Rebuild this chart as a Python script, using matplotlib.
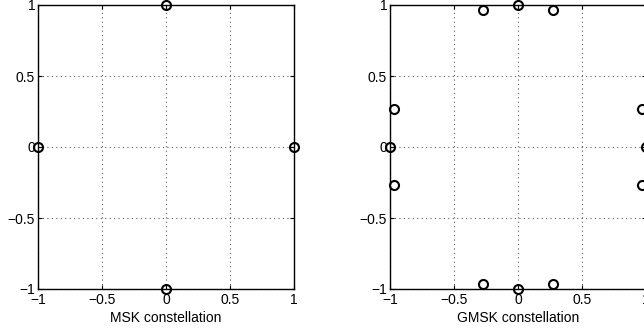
import matplotlib.pyplot as plt

plt.rcParams['font.family'] = ['Liberation Sans', 'DejaVu Sans']

msk_i = [1, 0, -1, 0]
msk_q = [0, 1, 0, -1]
gmsk_i = [1, 0.965, 0.27, 0, -0.27, -0.965, -1, -0.965, -0.27, 0, 0.27, 0.965]
gmsk_q = [0, 0.27, 0.965, 1, 0.965, 0.27, 0, -0.27, -0.965, -1, -0.965, -0.27]

ticks = [-1, -0.5, 0, 0.5, 1]
tick_labels = ['\u22121', '\u22120.5', '0', '0.5', '1']

fig = plt.figure(figsize=(6.44, 3.36), dpi=100)
ax1 = fig.add_axes([38 / 644, 47 / 336, 256 / 644, 284 / 336])
ax2 = fig.add_axes([390 / 644, 47 / 336, 256 / 644, 284 / 336])

for ax, xi, xq, label in [(ax1, msk_i, msk_q, 'MSK constellation'),
                          (ax2, gmsk_i, gmsk_q, 'GMSK constellation')]:
    ax.plot(xi, xq, 'o', mfc='none', mec='black', ms=6.5, mew=1.5,
            linestyle='none', clip_on=False, zorder=5)
    ax.set_xlim(-1, 1)
    ax.set_ylim(-1, 1)
    ax.set_xticks(ticks)
    ax.set_yticks(ticks)
    ax.set_xticklabels(tick_labels)
    ax.set_yticklabels(tick_labels)
    ax.tick_params(direction='in', length=3, width=0.8, labelsize=10,
                   top=True, right=True)
    ax.tick_params(axis='x', pad=3)
    ax.tick_params(axis='y', pad=2)
    ax.grid(True, linestyle=(0, (1, 3)), color='0.35', linewidth=0.8)
    for s in ax.spines.values():
        s.set_linewidth(1.0)
    ax.set_xlabel(label, fontsize=10, labelpad=3)

fig.savefig('out.png', dpi=100)
